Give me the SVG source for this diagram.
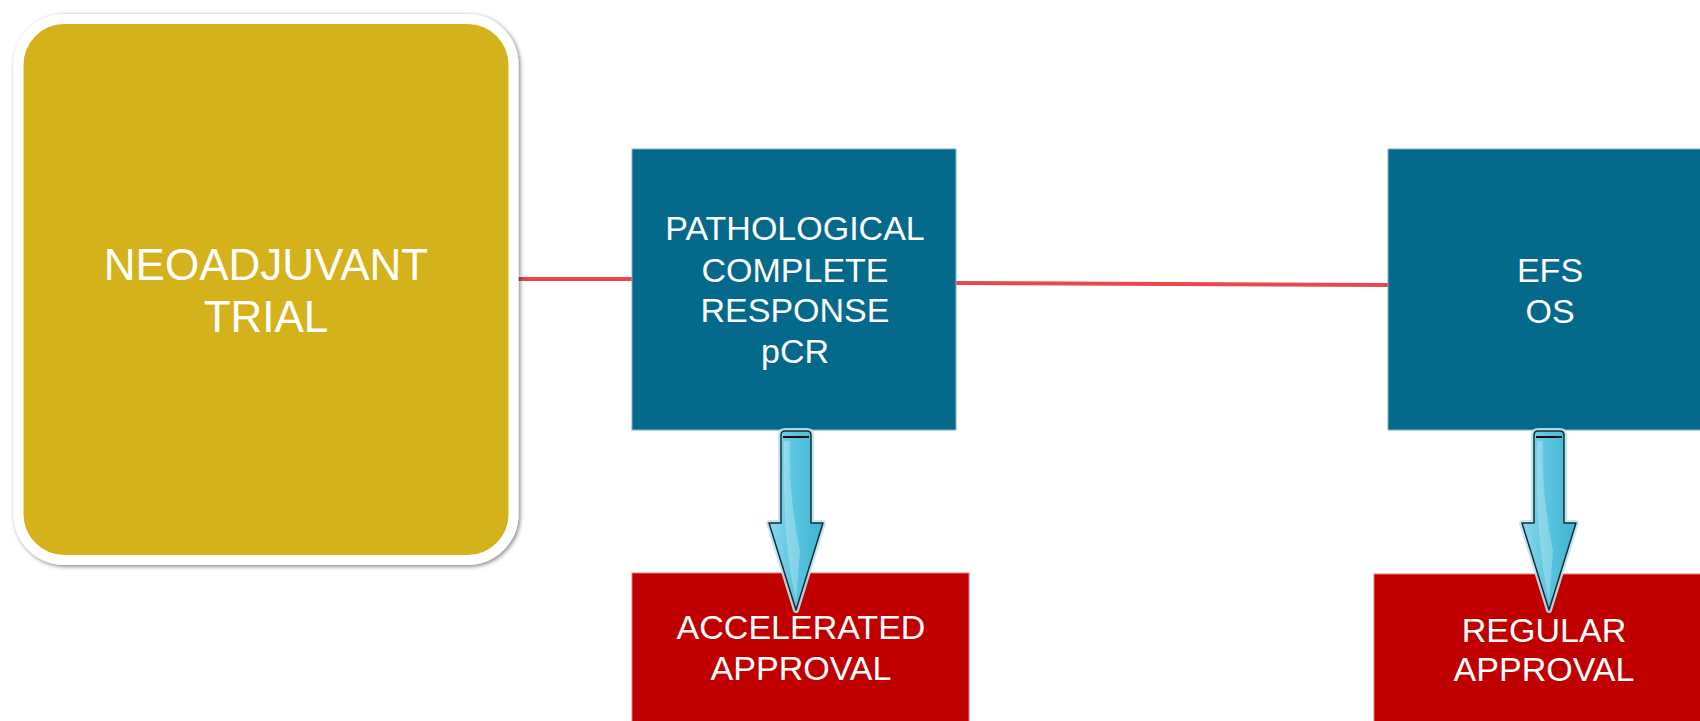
<svg xmlns="http://www.w3.org/2000/svg" width="1700" height="721" viewBox="0 0 1700 721">
<style>
.lbl{font-family:"Liberation Sans",Arial,sans-serif;fill:#ffffff;text-anchor:middle}
.blue{fill:#05698B;stroke:#7fb3c8;stroke-width:1}
.red{fill:#C00000;stroke:#e07a7a;stroke-width:1}
.conn{stroke:#E8474C;stroke-width:4;fill:none}
.arrow{fill:url(#ag);stroke:#1e2a30;stroke-width:1.5;stroke-linejoin:round}
.halo{fill:none;stroke:#b8e6f2;stroke-width:6;stroke-linejoin:round;opacity:0.9}
</style>
<defs>
<filter id="sh" x="-5%" y="-5%" width="115%" height="115%">
<feDropShadow dx="1.5" dy="1.5" stdDeviation="2" flood-color="#000" flood-opacity="0.5"/>
</filter>
<linearGradient id="ag" x1="0" y1="0" x2="1" y2="0">
<stop offset="0" stop-color="#8ad8ec"/>
<stop offset="0.45" stop-color="#5cc6e0"/>
<stop offset="1" stop-color="#3fb2d2"/>
</linearGradient>
<path id="arr" d="M-15,4 Q-15,0 -11,0 L11,0 Q15,0 15,4 L15,92 L27,92 L0,179 L-27,92 L-15,92 Z"/>
</defs>
<rect width="1700" height="721" fill="#ffffff"/>
<g id="connectors">
<line class="conn" x1="514" y1="279" x2="633" y2="279"/>
<line class="conn" x1="956" y1="283" x2="1389" y2="285"/>
</g>
<g id="neoadjuvant">
<rect x="18.5" y="19" width="495" height="541" rx="46" fill="#D4B21C" stroke="#ffffff" stroke-width="10" filter="url(#sh)"/>
<text class="lbl" x="266" y="280" font-size="44">NEOADJUVANT</text>
<text class="lbl" x="266" y="332" font-size="44">TRIAL</text>
</g>
<g id="pcr">
<rect class="blue" x="632" y="149" width="324" height="281"/>
<text class="lbl" x="795" y="240" font-size="34">PATHOLOGICAL</text>
<text class="lbl" x="795" y="282" font-size="34">COMPLETE</text>
<text class="lbl" x="795" y="322" font-size="34">RESPONSE</text>
<text class="lbl" x="795" y="363" font-size="34">pCR</text>
</g>
<g id="efs">
<rect class="blue" x="1388" y="149" width="330" height="281"/>
<text class="lbl" x="1550" y="282" font-size="34">EFS</text>
<text class="lbl" x="1550" y="323" font-size="34">OS</text>
</g>
<g id="accelerated">
<rect class="red" x="632" y="573" width="337" height="160"/>
<text class="lbl" x="801" y="639" font-size="34">ACCELERATED</text>
<text class="lbl" x="801" y="680" font-size="34">APPROVAL</text>
</g>
<g id="regular">
<rect class="red" x="1374" y="574" width="340" height="160"/>
<text class="lbl" x="1544" y="642" font-size="34">REGULAR</text>
<text class="lbl" x="1544" y="681" font-size="34">APPROVAL</text>
</g>
<g id="arrow1" transform="translate(796,431)">
<use href="#arr" class="halo"/>
<use href="#arr" class="arrow"/>
<line x1="-13" y1="6" x2="13" y2="6" stroke="#111" stroke-width="2"/>
<path d="M-6,10 Q-8,60 4,120 L0,170 Q-14,110 -12,10 Z" fill="#ffffff" opacity="0.25"/>
</g>
<g id="arrow2" transform="translate(1549,431)">
<use href="#arr" class="halo"/>
<use href="#arr" class="arrow"/>
<line x1="-13" y1="6" x2="13" y2="6" stroke="#111" stroke-width="2"/>
<path d="M-6,10 Q-8,60 4,120 L0,170 Q-14,110 -12,10 Z" fill="#ffffff" opacity="0.25"/>
</g>
</svg>
